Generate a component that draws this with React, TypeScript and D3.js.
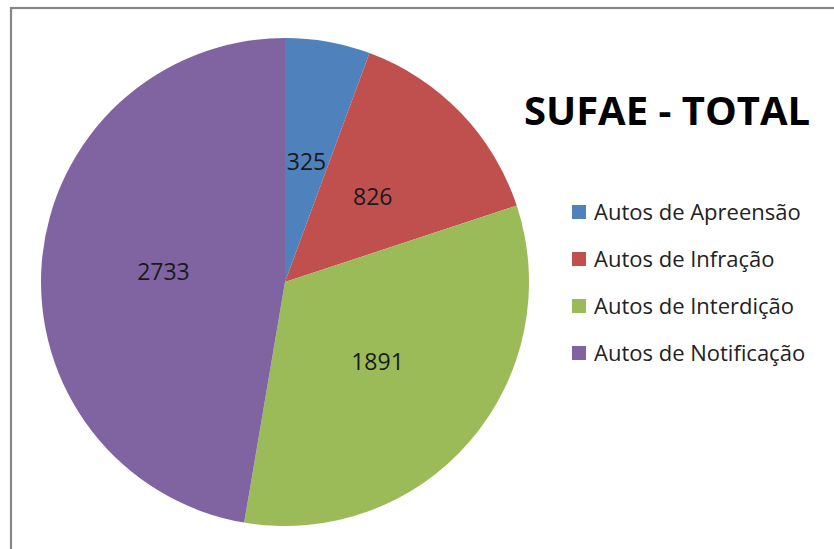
import React, { useEffect, useRef } from 'react';
import * as d3 from 'd3';

const categories = ['Autos de Apreensão', 'Autos de Infração', 'Autos de Interdição', 'Autos de Notificação'];
const values = [325, 826, 1891, 2733];
const colors = ['#4F81BD', '#C0504D', '#9BBB59', '#8064A2'];
const title = 'SUFAE - TOTAL';

const App = () => {
  const ref = useRef<SVGSVGElement>(null);

  useEffect(() => {
    const svg = d3.select(ref.current);
    svg.selectAll('*').remove();

    const width = 834;
    const height = 549;
    const cx = 285;
    const cy = 282;
    const radius = 244;

    // chart frame, runs off the right and bottom edges
    svg
      .append('rect')
      .attr('x', 11)
      .attr('y', 8)
      .attr('width', width + 20)
      .attr('height', height + 20)
      .attr('fill', '#fff')
      .attr('stroke', '#868686')
      .attr('stroke-width', 2.2);

    const pie = d3
      .pie<number>()
      .sort(null)
      .value(d => d);
    const arcs = pie(values);

    const arc = d3.arc<d3.PieArcDatum<number>>().innerRadius(0).outerRadius(radius);
    const labelArc = d3.arc<d3.PieArcDatum<number>>().innerRadius(radius * 0.5).outerRadius(radius * 0.5);

    const g = svg.append('g').attr('transform', `translate(${cx}, ${cy})`);

    g.selectAll('path')
      .data(arcs)
      .enter()
      .append('path')
      .attr('d', arc)
      .attr('fill', (_d, i) => colors[i]);

    g.selectAll('text')
      .data(arcs)
      .enter()
      .append('text')
      .attr('transform', d => {
        const c = labelArc.centroid(d);
        return `translate(${c[0]}, ${c[1]})`;
      })
      .attr('text-anchor', 'middle')
      .attr('dy', '0.35em')
      .style('font-family', '"Open Sans", sans-serif')
      .style('font-size', '23px')
      .attr('fill', '#1a1a1a')
      .text(d => d.data);

    svg
      .append('text')
      .attr('x', 667)
      .attr('y', 125)
      .attr('text-anchor', 'middle')
      .style('font-family', '"Open Sans", sans-serif')
      .style('font-weight', 'bold')
      .style('font-size', '40px')
      .attr('fill', '#000')
      .text(title);

    const legend = svg
      .selectAll('g.legend')
      .data(categories)
      .enter()
      .append('g')
      .attr('class', 'legend')
      .attr('transform', (_d, i) => `translate(572, ${212 + i * 47})`);

    legend
      .append('rect')
      .attr('x', 0)
      .attr('y', -7)
      .attr('width', 14)
      .attr('height', 14)
      .attr('fill', (_d, i) => colors[i]);

    legend
      .append('text')
      .attr('x', 22)
      .attr('dy', '0.35em')
      .style('font-family', '"Open Sans", sans-serif')
      .style('font-size', '22px')
      .attr('fill', '#222')
      .text(d => d);
  }, []);

  return (
    <svg
      ref={ref}
      width={834}
      height={549}
      style={{ position: 'absolute', left: 0, top: 0, display: 'block' }}
    />
  );
};

export default App;
